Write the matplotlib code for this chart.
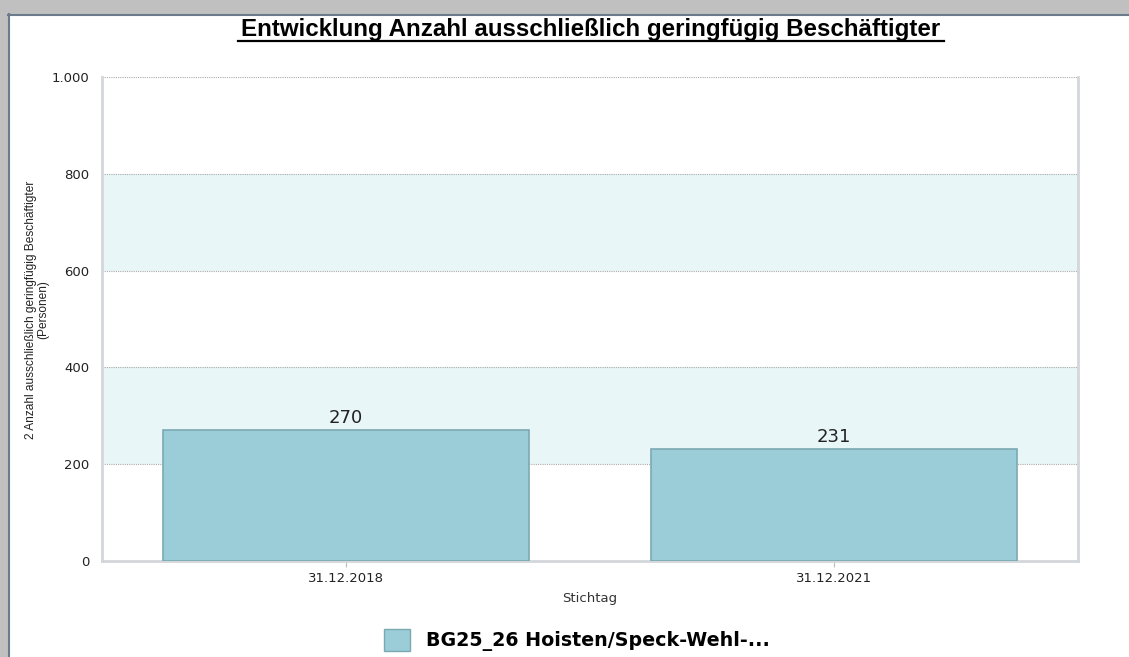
import matplotlib.pyplot as plt
from matplotlib.patches import Rectangle

# chart data
categories = ['31.12.2018', '31.12.2021']
values = [270, 231]
series_name = 'BG25_26 Hoisten/Speck-Wehl-...'
y_ticks = [0, 200, 400, 600, 800, 1000]
y_tick_labels = ['0', '200', '400', '600', '800', '1.000']
title = 'Entwicklung Anzahl ausschließlich geringfügig Beschäftigter'
y_title = '2 Anzahl ausschließlich geringfügig Beschäftigter\n(Personen)'

bar_color = '#9acdd8'
bar_edge = '#7ba9b2'
band_color = '#e8f6f7'

fig = plt.figure(figsize=(11.29, 6.57), dpi=100)
fig.patch.set_facecolor('white')

# window frame (gray strip at top and left)
W, H = 1129, 657
fig.patches.append(Rectangle((0, 1 - 14 / H), 1, 14 / H, transform=fig.transFigure,
                             facecolor='#c0c0c0', edgecolor='none', zorder=0))
fig.patches.append(Rectangle((0, 0), 8 / W, 1, transform=fig.transFigure,
                             facecolor='#c0c0c0', edgecolor='none', zorder=0))
fig.add_artist(plt.Line2D([8 / W, 1], [1 - 14.5 / H, 1 - 14.5 / H], transform=fig.transFigure,
                          color='#6b7b8b', lw=1.5))
fig.add_artist(plt.Line2D([8.5 / W, 8.5 / W], [0, 1 - 14 / H], transform=fig.transFigure,
                          color='#6b7b8b', lw=1.5))

ax = fig.add_axes([102 / W, 1 - 561 / H, (1078 - 102) / W, (561 - 77) / H])

# alternating bands
for lo in (200, 600):
    ax.axhspan(lo, lo + 200, color=band_color, zorder=0, lw=0)
for t in y_ticks[1:]:
    ax.axhline(t, color='#aaaaaa', lw=0.8, ls=(0, (1, 1)), zorder=1)

x = range(len(categories))
bars = ax.bar(x, values, width=0.75, color=bar_color, edgecolor=bar_edge, lw=1.2, zorder=3)
for b, v in zip(bars, values):
    ax.text(b.get_x() + b.get_width() / 2, v + 6, str(v), ha='center', va='bottom',
            fontsize=13, color='#222222', family='DejaVu Sans')

ax.set_xlim(-0.5, 1.5)
ax.set_ylim(0, 1000)
ax.set_yticks(y_ticks)
ax.set_yticklabels(y_tick_labels)
ax.set_xticks(list(x))
ax.set_xticklabels(categories)
ax.tick_params(axis='y', length=0, pad=9, labelsize=9.5, labelcolor='#222222')
ax.tick_params(axis='x', length=4, color='#bbbbbb', pad=4, labelsize=9.5, labelcolor='#222222')

for side in ('left', 'bottom', 'right'):
    ax.spines[side].set_color('#d3d7db')
    ax.spines[side].set_linewidth(2)
ax.spines['top'].set_visible(False)

ax.set_xlabel('Stichtag', fontsize=9.5, color='#333333', labelpad=5)

fig.text(37 / W, 1 - 310 / H, y_title,
         rotation=90, ha='center', va='center', fontsize=8.6, family='Liberation Sans',
         color='#222222', linespacing=1.1, multialignment='center')

# underlined bold title
fig.text(591 / W, 1 - 36 / H, title, ha='center', va='baseline', fontsize=17.4,
         fontweight='bold', family='Liberation Sans', color='black')
fig.add_artist(plt.Line2D([238 / W, 944 / W], [1 - 40.5 / H, 1 - 40.5 / H],
                          transform=fig.transFigure, color='black', lw=1.6))

# legend
fig.patches.append(Rectangle((384 / W, 1 - 651 / H), 26 / W, 22 / H, transform=fig.transFigure,
                             facecolor=bar_color, edgecolor=bar_edge, lw=1))
fig.text(426 / W, 1 - 641 / H, series_name, ha='left', va='center', fontsize=13.7,
         fontweight='bold', color='black')

fig.savefig('out.png', dpi=100)
